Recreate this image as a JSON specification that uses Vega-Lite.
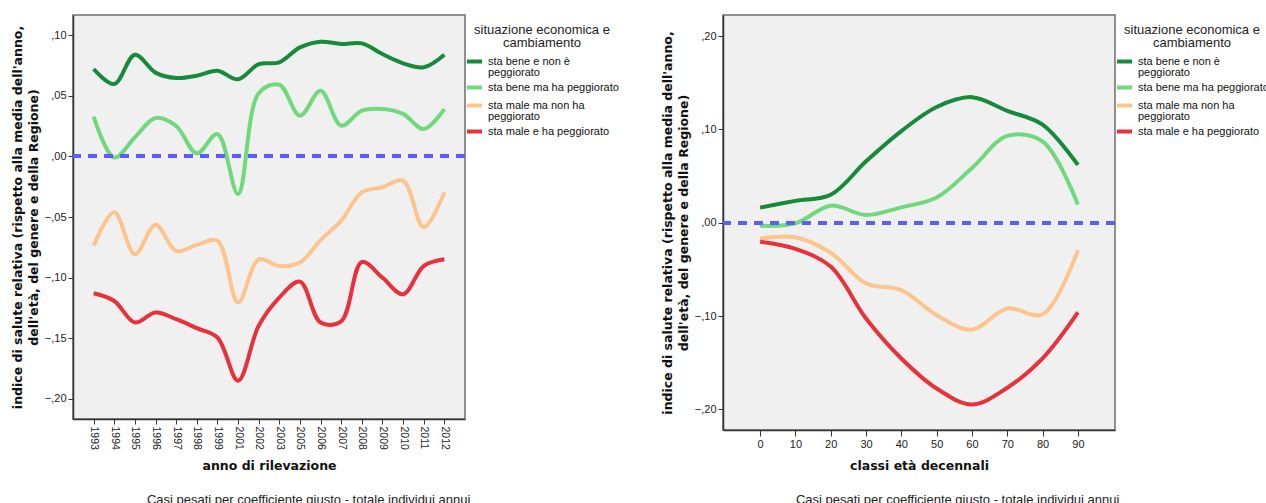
{
  "$schema": "https://vega.github.io/schema/vega-lite/v6.json",
  "padding": {"left": 10, "top": 14, "right": 0, "bottom": 0},
  "config": {
    "font": "Liberation Sans",
    "style": {"guide-label": {"lineHeight": 11}},
    "view": {"stroke": "#6e6e6e", "strokeWidth": 1.5, "fill": "#f0f0f0"},
    "axis": {"grid": false, "domainColor": "#333333", "domainWidth": 1.5, "tickColor": "#333333", "labelColor": "#222222", "labelFontSize": 11, "titleColor": "#111111", "titleFont": "DejaVu Sans", "titleFontSize": 12.5, "titleFontWeight": "bold"},
    "legend": {"orient": "right", "offset": -9, "padding": 9, "titleFontSize": 13, "titleFontWeight": "normal", "titleColor": "#222222", "titleAlign": "center", "titleAnchor": "middle", "titleLineHeight": 13, "titlePadding": 2, "labelFontSize": 11, "labelColor": "#111111", "symbolType": "stroke", "symbolStrokeWidth": 4, "symbolSize": 225, "labelOffset": 4, "rowPadding": -12, "labelLimit": 300}
  },
  "datasets": {
    "anni": [
      {"anno": "1993", "situazione": "sta bene e non è peggiorato", "valore": 0.072},
      {"anno": "1994", "situazione": "sta bene e non è peggiorato", "valore": 0.0596},
      {"anno": "1995", "situazione": "sta bene e non è peggiorato", "valore": 0.0838},
      {"anno": "1996", "situazione": "sta bene e non è peggiorato", "valore": 0.069},
      {"anno": "1997", "situazione": "sta bene e non è peggiorato", "valore": 0.0646},
      {"anno": "1998", "situazione": "sta bene e non è peggiorato", "valore": 0.0665},
      {"anno": "1999", "situazione": "sta bene e non è peggiorato", "valore": 0.0706},
      {"anno": "2001", "situazione": "sta bene e non è peggiorato", "valore": 0.0635},
      {"anno": "2002", "situazione": "sta bene e non è peggiorato", "valore": 0.076},
      {"anno": "2003", "situazione": "sta bene e non è peggiorato", "valore": 0.0775},
      {"anno": "2005", "situazione": "sta bene e non è peggiorato", "valore": 0.0898},
      {"anno": "2006", "situazione": "sta bene e non è peggiorato", "valore": 0.0945},
      {"anno": "2007", "situazione": "sta bene e non è peggiorato", "valore": 0.0926},
      {"anno": "2008", "situazione": "sta bene e non è peggiorato", "valore": 0.0931},
      {"anno": "2009", "situazione": "sta bene e non è peggiorato", "valore": 0.0843},
      {"anno": "2010", "situazione": "sta bene e non è peggiorato", "valore": 0.0767},
      {"anno": "2011", "situazione": "sta bene e non è peggiorato", "valore": 0.0734},
      {"anno": "2012", "situazione": "sta bene e non è peggiorato", "valore": 0.0838},
      {"anno": "1993", "situazione": "sta bene ma ha peggiorato", "valore": 0.0327},
      {"anno": "1994", "situazione": "sta bene ma ha peggiorato", "valore": -0.001},
      {"anno": "1995", "situazione": "sta bene ma ha peggiorato", "valore": 0.0157},
      {"anno": "1996", "situazione": "sta bene ma ha peggiorato", "valore": 0.0316},
      {"anno": "1997", "situazione": "sta bene ma ha peggiorato", "valore": 0.025},
      {"anno": "1998", "situazione": "sta bene ma ha peggiorato", "valore": 0.0025},
      {"anno": "1999", "situazione": "sta bene ma ha peggiorato", "valore": 0.0184},
      {"anno": "2001", "situazione": "sta bene ma ha peggiorato", "valore": -0.031},
      {"anno": "2002", "situazione": "sta bene ma ha peggiorato", "valore": 0.052},
      {"anno": "2003", "situazione": "sta bene ma ha peggiorato", "valore": 0.059},
      {"anno": "2005", "situazione": "sta bene ma ha peggiorato", "valore": 0.0335},
      {"anno": "2006", "situazione": "sta bene ma ha peggiorato", "valore": 0.054},
      {"anno": "2007", "situazione": "sta bene ma ha peggiorato", "valore": 0.0253},
      {"anno": "2008", "situazione": "sta bene ma ha peggiorato", "valore": 0.0376},
      {"anno": "2009", "situazione": "sta bene ma ha peggiorato", "valore": 0.039},
      {"anno": "2010", "situazione": "sta bene ma ha peggiorato", "valore": 0.035},
      {"anno": "2011", "situazione": "sta bene ma ha peggiorato", "valore": 0.0225},
      {"anno": "2012", "situazione": "sta bene ma ha peggiorato", "valore": 0.039},
      {"anno": "1993", "situazione": "sta male ma non ha peggiorato", "valore": -0.0736},
      {"anno": "1994", "situazione": "sta male ma non ha peggiorato", "valore": -0.046},
      {"anno": "1995", "situazione": "sta male ma non ha peggiorato", "valore": -0.0808},
      {"anno": "1996", "situazione": "sta male ma non ha peggiorato", "valore": -0.0563},
      {"anno": "1997", "situazione": "sta male ma non ha peggiorato", "valore": -0.078},
      {"anno": "1998", "situazione": "sta male ma non ha peggiorato", "valore": -0.073},
      {"anno": "1999", "situazione": "sta male ma non ha peggiorato", "valore": -0.0695},
      {"anno": "2001", "situazione": "sta male ma non ha peggiorato", "valore": -0.1205},
      {"anno": "2002", "situazione": "sta male ma non ha peggiorato", "valore": -0.085},
      {"anno": "2003", "situazione": "sta male ma non ha peggiorato", "valore": -0.0904},
      {"anno": "2005", "situazione": "sta male ma non ha peggiorato", "valore": -0.0875},
      {"anno": "2006", "situazione": "sta male ma non ha peggiorato", "valore": -0.069},
      {"anno": "2007", "situazione": "sta male ma non ha peggiorato", "valore": -0.053},
      {"anno": "2008", "situazione": "sta male ma non ha peggiorato", "valore": -0.0297},
      {"anno": "2009", "situazione": "sta male ma non ha peggiorato", "valore": -0.0255},
      {"anno": "2010", "situazione": "sta male ma non ha peggiorato", "valore": -0.02},
      {"anno": "2011", "situazione": "sta male ma non ha peggiorato", "valore": -0.0585},
      {"anno": "2012", "situazione": "sta male ma non ha peggiorato", "valore": -0.0297},
      {"anno": "1993", "situazione": "sta male e ha peggiorato", "valore": -0.1129},
      {"anno": "1994", "situazione": "sta male e ha peggiorato", "valore": -0.1192},
      {"anno": "1995", "situazione": "sta male e ha peggiorato", "valore": -0.137},
      {"anno": "1996", "situazione": "sta male e ha peggiorato", "valore": -0.1288},
      {"anno": "1997", "situazione": "sta male e ha peggiorato", "valore": -0.1342},
      {"anno": "1998", "situazione": "sta male e ha peggiorato", "valore": -0.1416},
      {"anno": "1999", "situazione": "sta male e ha peggiorato", "valore": -0.1493},
      {"anno": "2001", "situazione": "sta male e ha peggiorato", "valore": -0.1849},
      {"anno": "2002", "situazione": "sta male e ha peggiorato", "valore": -0.1397},
      {"anno": "2003", "situazione": "sta male e ha peggiorato", "valore": -0.1164},
      {"anno": "2005", "situazione": "sta male e ha peggiorato", "valore": -0.1033},
      {"anno": "2006", "situazione": "sta male e ha peggiorato", "valore": -0.137},
      {"anno": "2007", "situazione": "sta male e ha peggiorato", "valore": -0.136},
      {"anno": "2008", "situazione": "sta male e ha peggiorato", "valore": -0.0871},
      {"anno": "2009", "situazione": "sta male e ha peggiorato", "valore": -0.1},
      {"anno": "2010", "situazione": "sta male e ha peggiorato", "valore": -0.1137},
      {"anno": "2011", "situazione": "sta male e ha peggiorato", "valore": -0.0904},
      {"anno": "2012", "situazione": "sta male e ha peggiorato", "valore": -0.0849}
    ],
    "eta": [
      {"eta": 0, "situazione": "sta bene e non è peggiorato", "valore": 0.0162},
      {"eta": 10, "situazione": "sta bene e non è peggiorato", "valore": 0.0234},
      {"eta": 20, "situazione": "sta bene e non è peggiorato", "valore": 0.0299},
      {"eta": 30, "situazione": "sta bene e non è peggiorato", "valore": 0.0658},
      {"eta": 40, "situazione": "sta bene e non è peggiorato", "valore": 0.0982},
      {"eta": 50, "situazione": "sta bene e non è peggiorato", "valore": 0.124},
      {"eta": 60, "situazione": "sta bene e non è peggiorato", "valore": 0.1345},
      {"eta": 70, "situazione": "sta bene e non è peggiorato", "valore": 0.1198},
      {"eta": 80, "situazione": "sta bene e non è peggiorato", "valore": 0.105},
      {"eta": 90, "situazione": "sta bene e non è peggiorato", "valore": 0.062},
      {"eta": 0, "situazione": "sta bene ma ha peggiorato", "valore": -0.0032},
      {"eta": 10, "situazione": "sta bene ma ha peggiorato", "valore": -0.0007},
      {"eta": 20, "situazione": "sta bene ma ha peggiorato", "valore": 0.0183},
      {"eta": 30, "situazione": "sta bene ma ha peggiorato", "valore": 0.0083},
      {"eta": 40, "situazione": "sta bene ma ha peggiorato", "valore": 0.0165},
      {"eta": 50, "situazione": "sta bene ma ha peggiorato", "valore": 0.027},
      {"eta": 60, "situazione": "sta bene ma ha peggiorato", "valore": 0.0586},
      {"eta": 70, "situazione": "sta bene ma ha peggiorato", "valore": 0.093},
      {"eta": 80, "situazione": "sta bene ma ha peggiorato", "valore": 0.087},
      {"eta": 90, "situazione": "sta bene ma ha peggiorato", "valore": 0.0196},
      {"eta": 0, "situazione": "sta male ma non ha peggiorato", "valore": -0.017},
      {"eta": 10, "situazione": "sta male ma non ha peggiorato", "valore": -0.0155},
      {"eta": 20, "situazione": "sta male ma non ha peggiorato", "valore": -0.0321},
      {"eta": 30, "situazione": "sta male ma non ha peggiorato", "valore": -0.065},
      {"eta": 40, "situazione": "sta male ma non ha peggiorato", "valore": -0.0722},
      {"eta": 50, "situazione": "sta male ma non ha peggiorato", "valore": -0.099},
      {"eta": 60, "situazione": "sta male ma non ha peggiorato", "valore": -0.1145},
      {"eta": 70, "situazione": "sta male ma non ha peggiorato", "valore": -0.0918},
      {"eta": 80, "situazione": "sta male ma non ha peggiorato", "valore": -0.098},
      {"eta": 90, "situazione": "sta male ma non ha peggiorato", "valore": -0.0293},
      {"eta": 0, "situazione": "sta male e ha peggiorato", "valore": -0.0204},
      {"eta": 10, "situazione": "sta male e ha peggiorato", "valore": -0.028},
      {"eta": 20, "situazione": "sta male e ha peggiorato", "valore": -0.047},
      {"eta": 30, "situazione": "sta male e ha peggiorato", "valore": -0.1025},
      {"eta": 40, "situazione": "sta male e ha peggiorato", "valore": -0.1454},
      {"eta": 50, "situazione": "sta male e ha peggiorato", "valore": -0.1776},
      {"eta": 60, "situazione": "sta male e ha peggiorato", "valore": -0.1947},
      {"eta": 70, "situazione": "sta male e ha peggiorato", "valore": -0.1768},
      {"eta": 80, "situazione": "sta male e ha peggiorato", "valore": -0.1454},
      {"eta": 90, "situazione": "sta male e ha peggiorato", "valore": -0.0961}
    ]
  },
  "spacing": 31,
  "resolve": {"scale": {"x": "independent", "y": "independent", "color": "independent"}, "legend": {"color": "independent"}},
  "hconcat": [
    {
      "width": 392,
      "height": 404,
      "data": {"name": "anni"},
      "title": {"text": "Casi pesati per coefficiente giusto - totale individui annui", "orient": "bottom", "anchor": "middle", "frame": "bounds", "fontSize": 13, "fontWeight": "normal", "color": "#222222", "offset": 22, "dx": -11},
      "layer": [
        {
          "mark": {"type": "line", "interpolate": "catmull-rom", "strokeWidth": 4},
          "encoding": {
            "x": {"field": "anno", "type": "ordinal", "scale": {"type": "point", "padding": 1.5}, "axis": {"labelAngle": 90, "tickSize": 5, "labelPadding": 2, "labelFontSize": 10.5, "title": "anno di rilevazione", "titlePadding": 10}},
            "y": {"field": "valore", "type": "quantitative", "scale": {"domain": [-0.2165, 0.1165], "nice": false, "zero": false}, "axis": {"values": [-0.2, -0.15, -0.1, -0.05, 0, 0.05, 0.1], "labelExpr": "replace(format(datum.value, '.2f'), '0.', ',')", "tickSize": 5, "labelPadding": 2, "title": ["indice di salute relativa (rispetto alla media dell'anno,", "dell'età, del genere e della Regione)"], "titleLineHeight": 16, "titlePadding": 4}},
            "color": {"field": "situazione", "type": "nominal", "scale": {"domain": ["sta bene e non è peggiorato", "sta bene ma ha peggiorato", "sta male ma non ha peggiorato", "sta male e ha peggiorato"], "range": ["#178a3c", "#6fd97c", "#fdc48d", "#e8323b"]}, "legend": {"title": ["situazione economica e", "cambiamento"], "labelExpr": "datum.label == 'sta bene e non è peggiorato' ? ['sta bene e non è', 'peggiorato'] : datum.label == 'sta male ma non ha peggiorato' ? ['sta male ma non ha', 'peggiorato'] : datum.label"}}
          }
        },
        {
          "mark": {"type": "rule", "color": "#5c5cff", "strokeWidth": 3.5, "strokeDash": [9, 7]},
          "encoding": {"y": {"datum": 0}}
        }
      ]
    },
    {
      "width": 392,
      "height": 415,
      "data": {"name": "eta"},
      "title": {"text": "Casi pesati per coefficiente giusto - totale individui annui", "orient": "bottom", "anchor": "middle", "frame": "bounds", "fontSize": 13, "fontWeight": "normal", "color": "#222222", "offset": 22, "dx": -12},
      "layer": [
        {
          "mark": {"type": "line", "interpolate": "catmull-rom", "strokeWidth": 4},
          "encoding": {
            "x": {"field": "eta", "type": "quantitative", "scale": {"domain": [-10.5, 100.5], "nice": false, "zero": false}, "axis": {"values": [0, 10, 20, 30, 40, 50, 60, 70, 80, 90], "format": "d", "labelAngle": 0, "tickSize": 6, "labelPadding": 2, "title": "classi età decennali", "titlePadding": 10}},
            "y": {"field": "valore", "type": "quantitative", "scale": {"domain": [-0.222, 0.2225], "nice": false, "zero": false}, "axis": {"values": [-0.2, -0.1, 0, 0.1, 0.2], "labelExpr": "replace(format(datum.value, '.2f'), '0.', ',')", "tickSize": 5, "labelPadding": 2, "title": ["indice di salute relativa (rispetto alla media dell'anno,", "dell'età, del genere e della Regione)"], "titleLineHeight": 16, "titlePadding": 4}},
            "color": {"field": "situazione", "type": "nominal", "scale": {"domain": ["sta bene e non è peggiorato", "sta bene ma ha peggiorato", "sta male ma non ha peggiorato", "sta male e ha peggiorato"], "range": ["#178a3c", "#6fd97c", "#fdc48d", "#e8323b"]}, "legend": {"title": ["situazione economica e", "cambiamento"], "labelExpr": "datum.label == 'sta bene e non è peggiorato' ? ['sta bene e non è', 'peggiorato'] : datum.label == 'sta male ma non ha peggiorato' ? ['sta male ma non ha', 'peggiorato'] : datum.label"}}
          }
        },
        {
          "mark": {"type": "rule", "color": "#5c5cff", "strokeWidth": 3.5, "strokeDash": [9, 7]},
          "encoding": {"y": {"datum": 0}}
        }
      ]
    }
  ]
}
